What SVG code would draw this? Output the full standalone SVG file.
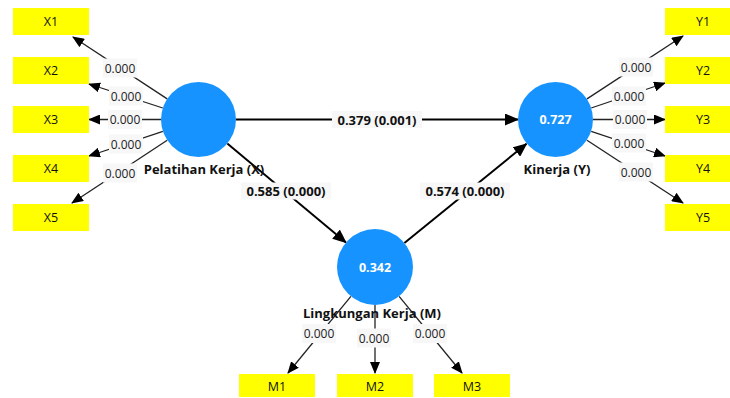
<svg xmlns="http://www.w3.org/2000/svg" width="730" height="398" viewBox="0 0 730 398">
<defs>
<marker id="ah" markerUnits="userSpaceOnUse" markerWidth="14" markerHeight="12" refX="13" refY="6" orient="auto"><path d="M0,0 L14,6 L0,12 z" fill="#000"/></marker>
<marker id="as" markerUnits="userSpaceOnUse" markerWidth="12" markerHeight="10" refX="11" refY="5" orient="auto"><path d="M0,0 L12,5 L0,10 z" fill="#000"/></marker>
<style>
text{font-family:"Open Sans","Noto Sans",sans-serif;}
.box{fill:#ffff00;}
.bt{font-size:12.5px;fill:#111;text-anchor:middle;dominant-baseline:central;}
.circ{fill:#1793ff;}
.ct{font-size:12.5px;font-weight:bold;fill:#fff;text-anchor:middle;dominant-baseline:central;}
.nl{font-size:13px;font-weight:bold;fill:#111;text-anchor:middle;}
.ol{stroke:#222;stroke-width:1.3;fill:none;marker-end:url(#as);}
.sl{stroke:#000;stroke-width:2;fill:none;marker-end:url(#ah);}
.lb{fill:#f7f7f7;}
.lt{font-size:12px;fill:#222;text-anchor:middle;dominant-baseline:central;}
.st{font-size:13px;font-weight:bold;fill:#111;text-anchor:middle;dominant-baseline:central;}
</style>
</defs>
<g id="connectors">
<line class="ol" x1="167.2" y1="98.9" x2="73" y2="37"/>
<line class="ol" x1="162.8" y1="108" x2="89" y2="84"/>
<line class="ol" x1="161" y1="119.5" x2="89" y2="119.5"/>
<line class="ol" x1="162.9" y1="131.4" x2="89" y2="156"/>
<line class="ol" x1="167.2" y1="140.2" x2="72" y2="203"/>
<line class="ol" x1="587" y1="98.9" x2="683" y2="36"/>
<line class="ol" x1="591.2" y1="108" x2="665" y2="83"/>
<line class="ol" x1="593" y1="119.5" x2="665" y2="119.5"/>
<line class="ol" x1="591.2" y1="131.4" x2="665" y2="156"/>
<line class="ol" x1="587" y1="140.2" x2="683" y2="203"/>
<line class="ol" x1="350.9" y1="296.4" x2="288" y2="373"/>
<line class="ol" x1="375" y1="305" x2="375" y2="373"/>
<line class="ol" x1="399.1" y1="296.4" x2="462" y2="373"/>
<line class="sl" x1="236" y1="119.5" x2="518" y2="119.5"/>
<line class="sl" x1="227.3" y1="143.5" x2="346" y2="242.5"/>
<line class="sl" x1="404.4" y1="243" x2="526.5" y2="143.8"/>
<g id="loading-labels">
<rect class="lb" x="103" y="58.5" width="34" height="19"/><text class="lt" x="120" y="68">0.000</text>
<rect class="lb" x="109" y="86.5" width="34" height="19"/><text class="lt" x="126" y="96">0.000</text>
<rect class="lb" x="108" y="110" width="34" height="19"/><text class="lt" x="125" y="119.5">0.000</text>
<rect class="lb" x="109" y="134.5" width="34" height="19"/><text class="lt" x="126" y="144">0.000</text>
<rect class="lb" x="103" y="163.5" width="34" height="19"/><text class="lt" x="120" y="173">0.000</text>
<rect class="lb" x="619" y="57.5" width="34" height="19"/><text class="lt" x="636" y="67">0.000</text>
<rect class="lb" x="612" y="86.5" width="34" height="19"/><text class="lt" x="629" y="96">0.000</text>
<rect class="lb" x="613" y="110" width="34" height="19"/><text class="lt" x="630" y="119.5">0.000</text>
<rect class="lb" x="612" y="133.5" width="34" height="19"/><text class="lt" x="629" y="143">0.000</text>
<rect class="lb" x="619" y="162.5" width="34" height="19"/><text class="lt" x="636" y="172">0.000</text>
<rect class="lb" x="302" y="324" width="34" height="19"/><text class="lt" x="319" y="333.5">0.000</text>
<rect class="lb" x="357" y="328.5" width="34" height="19"/><text class="lt" x="374" y="338">0.000</text>
<rect class="lb" x="413" y="324" width="34" height="19"/><text class="lt" x="430" y="333.5">0.000</text>
</g>
<g id="path-labels">
<rect class="lb" x="332" y="111" width="90" height="17"/><text class="st" x="377" y="119.5">0.379 (0.001)</text>
<rect class="lb" x="241" y="182.5" width="90" height="17"/><text class="st" x="286" y="191">0.585 (0.000)</text>
<rect class="lb" x="420" y="182.5" width="90" height="17"/><text class="st" x="465" y="191">0.574 (0.000)</text>
</g>
</g>
<g id="X1"><rect class="box" x="13" y="8" width="76" height="27"/><text class="bt" x="51" y="21.5">X1</text></g>
<g id="X2"><rect class="box" x="13" y="57" width="76" height="27"/><text class="bt" x="51" y="70.5">X2</text></g>
<g id="X3"><rect class="box" x="13" y="106" width="76" height="27"/><text class="bt" x="51" y="119.5">X3</text></g>
<g id="X4"><rect class="box" x="13" y="155" width="76" height="27"/><text class="bt" x="51" y="168.5">X4</text></g>
<g id="X5"><rect class="box" x="13" y="204" width="76" height="27"/><text class="bt" x="51" y="217.5">X5</text></g>
<g id="Y1"><rect class="box" x="665" y="8" width="76" height="27"/><text class="bt" x="703" y="21.5">Y1</text></g>
<g id="Y2"><rect class="box" x="665" y="57" width="76" height="27"/><text class="bt" x="703" y="70.5">Y2</text></g>
<g id="Y3"><rect class="box" x="665" y="106" width="76" height="27"/><text class="bt" x="703" y="119.5">Y3</text></g>
<g id="Y4"><rect class="box" x="665" y="155" width="76" height="27"/><text class="bt" x="703" y="168.5">Y4</text></g>
<g id="Y5"><rect class="box" x="665" y="204" width="76" height="27"/><text class="bt" x="703" y="217.5">Y5</text></g>
<g id="M1"><rect class="box" x="239" y="374" width="76" height="23"/><text class="bt" x="277" y="386.5">M1</text></g>
<g id="M2"><rect class="box" x="337" y="374" width="76" height="23"/><text class="bt" x="375" y="386.5">M2</text></g>
<g id="M3"><rect class="box" x="434" y="374" width="76" height="23"/><text class="bt" x="472" y="386.5">M3</text></g>
<g id="PelatihanKerja"><circle class="circ" cx="198.5" cy="119.5" r="37.5"/><text class="nl" x="204" y="174">Pelatihan Kerja (X)</text></g>
<g id="Kinerja"><circle class="circ" cx="555.5" cy="119.5" r="37.5"/><text class="ct" x="555.5" y="119.5">0.727</text><text class="nl" x="557" y="174">Kinerja (Y)</text></g>
<g id="LingkunganKerja"><circle class="circ" cx="375" cy="267" r="38"/><text class="ct" x="375" y="267">0.342</text><text class="nl" x="372" y="318">Lingkungan Kerja (M)</text></g>
</svg>
